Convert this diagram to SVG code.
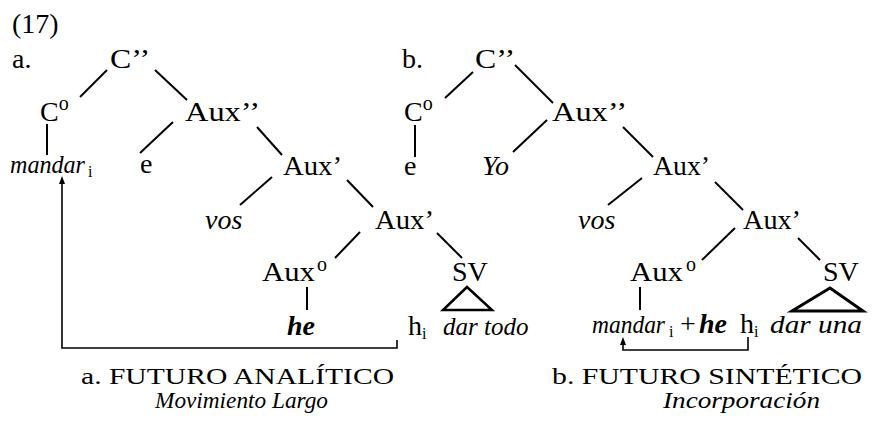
<svg xmlns="http://www.w3.org/2000/svg" width="872" height="428" viewBox="0 0 872 428">
<style>
text{font-family:"Liberation Serif","Times New Roman",serif;font-size:28px;fill:#000}
.it{font-style:italic}
.bi{font-style:italic;font-weight:bold}
.sup{font-size:20px}
.sub{font-size:16px}
.cap{font-size:24px}
.ln line,.ln polygon,.ln path{stroke:#000;stroke-width:2;fill:none}
</style>
<defs>
<marker id="ah" markerWidth="8" markerHeight="8" refX="4" refY="4" orient="auto" markerUnits="userSpaceOnUse">
<path d="M0,1 L8,4 L0,7 Z" fill="#000"/>
</marker>
</defs>
<rect width="872" height="428" fill="#fff"/>
<g id="labels">
<text x="12" y="33">(17)</text>
<text x="12" y="68">a.</text>
<text x="402" y="68">b.</text>
</g>
<!-- Tree a -->
<g id="a-Cbar2"><text x="110" y="68" textLength="40" lengthAdjust="spacingAndGlyphs">C’’</text></g>
<g id="a-C0"><text x="40" y="121">C<tspan class="sup" dy="-11">o</tspan></text></g>
<g id="a-Aux2"><text x="185" y="121" textLength="75" lengthAdjust="spacingAndGlyphs">Aux’’</text></g>
<g id="a-mandar"><text class="it" x="10" y="173" style="font-size:25px" textLength="75" lengthAdjust="spacingAndGlyphs">mandar</text><text class="sub" x="88" y="177">i</text></g>
<g id="a-e"><text x="140" y="173">e</text></g>
<g id="a-Aux1a"><text x="283" y="175" textLength="59" lengthAdjust="spacingAndGlyphs">Aux’</text></g>
<g id="a-vos"><text class="it" x="205" y="229">vos</text></g>
<g id="a-Aux1b"><text x="375" y="229" textLength="59" lengthAdjust="spacingAndGlyphs">Aux’</text></g>
<g id="a-Aux0"><text x="262" y="281" textLength="53" lengthAdjust="spacingAndGlyphs">Aux</text><text class="sup" x="317" y="271">o</text></g>
<g id="a-SV"><text x="452" y="281">SV</text></g>
<g id="a-he"><text class="bi" x="287" y="335">he</text></g>
<g id="a-hi"><text x="408" y="335">h</text><text class="sub" x="422" y="339">i</text></g>
<g id="a-dartodo"><text class="it" x="443" y="335" style="font-size:25px">dar todo</text></g>
<!-- Tree b -->
<g id="b-Cbar2"><text x="475" y="68" textLength="40" lengthAdjust="spacingAndGlyphs">C’’</text></g>
<g id="b-C0"><text x="404" y="121">C<tspan class="sup" dy="-11">o</tspan></text></g>
<g id="b-Aux2"><text x="552" y="121" textLength="75" lengthAdjust="spacingAndGlyphs">Aux’’</text></g>
<g id="b-e"><text x="404" y="175">e</text></g>
<g id="b-Yo"><text class="it" x="482" y="175">Yo</text></g>
<g id="b-Aux1a"><text x="653" y="175" textLength="57" lengthAdjust="spacingAndGlyphs">Aux’</text></g>
<g id="b-vos"><text class="it" x="578" y="229">vos</text></g>
<g id="b-Aux1b"><text x="743" y="229" textLength="58" lengthAdjust="spacingAndGlyphs">Aux’</text></g>
<g id="b-Aux0"><text x="630" y="281" textLength="53" lengthAdjust="spacingAndGlyphs">Aux</text><text class="sup" x="686" y="271">o</text></g>
<g id="b-SV"><text x="823" y="281">SV</text></g>
<g id="b-mandarhe"><text class="it" x="592" y="333" style="font-size:25px" textLength="73" lengthAdjust="spacingAndGlyphs">mandar</text><text class="sub" x="669" y="337">i</text><text x="680" y="333">+</text><text class="bi" x="699" y="333">he</text></g>
<g id="b-hi"><text x="740" y="333">h</text><text class="sub" x="754" y="337">i</text></g>
<g id="b-darua"><text class="it" x="770" y="333" style="font-size:25px" textLength="92" lengthAdjust="spacingAndGlyphs">dar una</text></g>
<!-- captions -->
<g id="cap-a"><text class="cap" x="81" y="384" textLength="313" lengthAdjust="spacingAndGlyphs">a. FUTURO ANALÍTICO</text><text class="it cap" x="155" y="408" textLength="173" lengthAdjust="spacingAndGlyphs">Movimiento Largo</text></g>
<g id="cap-b"><text class="cap" x="552" y="384" textLength="310" lengthAdjust="spacingAndGlyphs">b. FUTURO SINTÉTICO</text><text class="it cap" x="663" y="408" textLength="157" lengthAdjust="spacingAndGlyphs">Incorporación</text></g>
<g id="connectors" class="ln">
<line x1="107" y1="70" x2="80" y2="97"/>
<line x1="155" y1="70" x2="187" y2="100"/>
<line x1="47" y1="124" x2="47" y2="155"/>
<line x1="173" y1="122" x2="140" y2="153"/>
<line x1="257" y1="127" x2="282" y2="155"/>
<line x1="272" y1="177" x2="240" y2="205"/>
<line x1="347" y1="180" x2="373" y2="207"/>
<line x1="360" y1="232" x2="335" y2="258"/>
<line x1="437" y1="233" x2="462" y2="258"/>
<polygon points="467,287 443,310 492,310" style="stroke-width:2.5"/>
<line x1="307" y1="287" x2="307" y2="310"/>
<path d="M397,340 V348 H62 V180" style="stroke-width:1.6" marker-end="url(#ah)"/>
<line x1="473" y1="72" x2="445" y2="98"/>
<line x1="515" y1="65" x2="553" y2="103"/>
<line x1="415" y1="125" x2="415" y2="157"/>
<line x1="547" y1="120" x2="513" y2="152"/>
<line x1="623" y1="127" x2="653" y2="157"/>
<line x1="642" y1="178" x2="608" y2="205"/>
<line x1="715" y1="182" x2="743" y2="210"/>
<line x1="735" y1="228" x2="702" y2="260"/>
<line x1="798" y1="238" x2="820" y2="260"/>
<polygon points="830,288 792,311 863,311" style="stroke-width:3"/>
<line x1="640" y1="287" x2="640" y2="310"/>
<path d="M748,337 V350 H623 V341" style="stroke-width:1.6" marker-end="url(#ah)"/>
</g>
</svg>
